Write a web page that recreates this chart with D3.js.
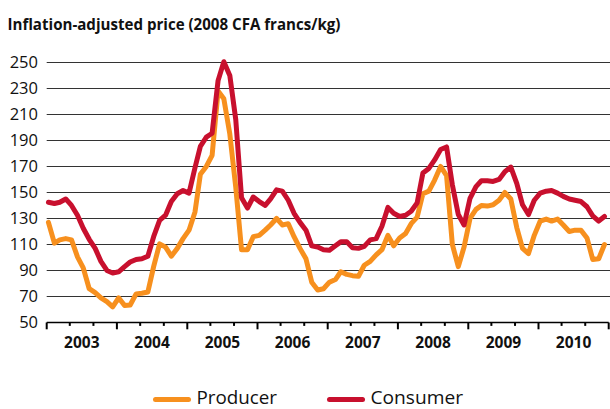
<!DOCTYPE html>
<html>
<head>
<meta charset="utf-8">
<script src="https://cdn.jsdelivr.net/npm/d3@7"></script>
<style>
  html, body { margin: 0; padding: 0; background: #fff; }
  svg { display: block; }
</style>
</head>
<body>
<div id="chart"></div>
<script>
// ---- Data (monthly, Jan 2003 .. Dec 2010) ----
const years = [2003, 2004, 2005, 2006, 2007, 2008, 2009, 2010];
const yTicks = [50, 70, 90, 110, 130, 150, 170, 190, 210, 230, 250];

const producer = [
  127, 111, 113.5, 114.5, 113.5, 100.5, 92, 76, 73, 69, 66, 62,          // 2003
  69, 63, 63.5, 72, 72.5, 73.5, 93, 110.5, 108, 101, 107, 114.5,         // 2004
  121, 135, 164, 170, 178.5, 228, 222, 195, 154, 106, 106, 116,          // 2005
  117, 121, 125, 130, 125, 126, 116, 107, 99, 81, 75, 76,                // 2006
  81, 83, 89, 87, 86, 85.5, 94, 97, 102, 106, 117, 109,                  // 2007
  115, 118.5, 126, 131, 149, 151, 159.5, 170, 163, 110, 93, 108,         // 2008
  130, 137, 140, 139.5, 140.5, 144, 150, 145, 123, 107, 103, 117,        // 2009
  128, 129.5, 128, 129.5, 125, 120, 121, 121, 115, 98.5, 99, 110         // 2010
];

const consumer = [
  142.5, 141.5, 142.5, 145, 140, 132.5, 122.5, 114, 107, 97, 90, 88,     // 2003
  89, 93, 96.5, 98.5, 99, 101, 116, 128.5, 132.5, 143, 149, 151.5,       // 2004
  149.5, 169, 185.5, 192.5, 195.5, 236, 250.5, 240, 206, 146, 138, 146.5,// 2005
  143, 140, 145, 152, 151, 144, 134, 127, 121, 109, 108, 106,            // 2006
  105.5, 109, 112, 112, 107.5, 107, 108.5, 113.5, 114.5, 124, 138.5, 134,// 2007
  131.5, 132.5, 135.5, 142, 165, 168.5, 175, 183, 185, 156, 133, 125,    // 2008
  145.5, 154.5, 159, 159, 158.5, 160, 166, 169.5, 157, 140.5, 133, 144,  // 2009
  149.5, 151, 151.5, 149.5, 147, 145, 144, 143, 139, 132, 128, 131.5     // 2010
];

const seriesNames = ['Producer', 'Consumer'];
const seriesColors = ['#f7901e', '#c8102e'];

// ---- Layout ----
const W = 610, H = 409;
const FONT = "'Open Sans', 'DejaVu Sans', sans-serif";

const svg = d3.select('#chart').append('svg')
  .attr('width', W).attr('height', H)
  .attr('viewBox', `0 0 ${W} ${H}`);

const x = d3.scaleTime()
  .domain([new Date(2003, 0, 1), new Date(2011, 0, 1)])
  .range([46.7, 608.7]);

const y = d3.scaleLinear()
  .domain([50, 250])
  .range([322.5, 62.4]);

const dateOf = i => new Date(years[0], i, 10);

// Title
svg.append('text')
  .attr('x', 7.5).attr('y', 29.5)
  .attr('font-family', FONT).attr('font-weight', 700).attr('font-size', 16.5)
  .attr('textLength', 333).attr('lengthAdjust', 'spacingAndGlyphs')
  .attr('fill', '#111')
  .text('Inflation-adjusted price (2008 CFA francs/kg)');

// Gridlines
svg.append('g').selectAll('line')
  .data(yTicks.filter(v => v > 50)).join('line')
  .attr('x1', x.range()[0]).attr('x2', W)
  .attr('y1', d => Math.round(y(d)) + 0.5).attr('y2', d => Math.round(y(d)) + 0.5)
  .attr('stroke', '#333').attr('stroke-width', 1);

// Y labels
svg.append('g').selectAll('text')
  .data(yTicks).join('text')
  .attr('x', 38).attr('y', d => y(d))
  .attr('dy', '0.36em')
  .attr('text-anchor', 'end')
  .attr('font-family', FONT).attr('font-size', 16.5)
  .attr('fill', '#111')
  .text(d => d);

// X axis line
svg.append('line')
  .attr('x1', x.range()[0]).attr('x2', x.range()[1])
  .attr('y1', y(50)).attr('y2', y(50))
  .attr('stroke', '#000').attr('stroke-width', 1.6);

// Ticks every 4 months, year ticks longer
const tickDates = d3.timeMonth.every(4).range(x.domain()[0], d3.timeMonth.offset(x.domain()[1], 1));
svg.append('g').selectAll('line')
  .data(tickDates).join('line')
  .attr('x1', d => x(d)).attr('x2', d => x(d))
  .attr('y1', y(50))
  .attr('y2', d => y(50) + (d.getMonth() === 0 ? 6.8 : 3.4))
  .attr('stroke', '#000').attr('stroke-width', 2);

// Year labels
svg.append('g').selectAll('text')
  .data(years).join('text')
  .attr('x', d => (x(new Date(d, 0, 1)) + x(new Date(d + 1, 0, 1))) / 2)
  .attr('y', 348)
  .attr('text-anchor', 'middle')
  .attr('font-family', FONT).attr('font-weight', 700).attr('font-size', 15.5)
  .attr('fill', '#111')
  .text(d => d);

// Lines
const line = d3.line()
  .x((d, i) => x(dateOf(i)))
  .y(d => y(d))
  .curve(d3.curveLinear);

[producer, consumer].forEach((vals, k) => {
  svg.append('path')
    .datum(vals)
    .attr('d', line)
    .attr('fill', 'none')
    .attr('stroke', seriesColors[k])
    .attr('stroke-width', 5)
    .attr('stroke-linejoin', 'round')
    .attr('stroke-linecap', 'round');
});

// Legend
const legendX = [153.5, 327.5];
const legendW = [80.5, 92.5];
const legend = svg.append('g').selectAll('g')
  .data(seriesNames).join('g')
  .attr('transform', (d, i) => `translate(${legendX[i]},399.5)`);

legend.append('line')
  .attr('x1', 2).attr('x2', 35)
  .attr('stroke', (d, i) => seriesColors[i])
  .attr('stroke-width', 5)
  .attr('stroke-linecap', 'round');

legend.append('text')
  .attr('x', 43).attr('y', 4.5)
  .attr('font-family', FONT).attr('font-size', 18.5)
  .attr('textLength', (d, i) => legendW[i]).attr('lengthAdjust', 'spacingAndGlyphs')
  .attr('fill', '#111')
  .text(d => d);
</script>
</body>
</html>
